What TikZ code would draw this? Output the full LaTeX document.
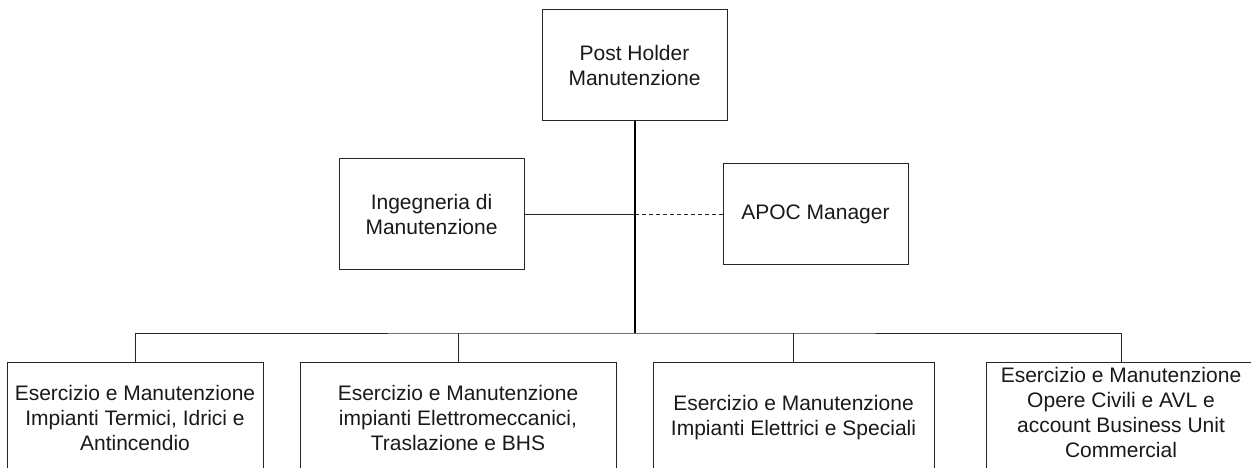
\documentclass[tikz,border=0pt]{standalone}
\usepackage{fontspec}
\setmainfont{Liberation Sans}
\begin{document}
\begin{tikzpicture}[x=1pt,y=-1pt,
  box/.style={draw=black!85, line width=1pt, rectangle, inner sep=0pt, align=center,
    font=\fontsize{21}{25}\selectfont, text=black!90},
  conn/.style={draw=black!85, line width=1pt},
  mainconn/.style={draw=black, line width=2pt},
  dotconn/.style={draw=black!85, line width=1pt, dash pattern=on 4pt off 3pt}]
\useasboundingbox (0,0) rectangle (1251,468);
\clip (0,0) rectangle (1251,468);
\node[box, minimum width=185pt, minimum height=111pt] (top) at (634.5,65.5) {Post Holder\\Manutenzione};
\node[box, minimum width=185pt, minimum height=110pt] (ing) at (431.5,214) {Ingegneria di\\Manutenzione};
\node[box, minimum width=185pt, minimum height=100pt] (apoc) at (815.5,214) {APOC Manager};
\node[box, minimum width=256pt, minimum height=112pt] (b1) at (135,418) {Esercizio e Manutenzione\\Impianti Termici, Idrici e\\Antincendio};
\node[box, minimum width=316pt, minimum height=112pt] (b2) at (458,418) {Esercizio e Manutenzione\\impianti Elettromeccanici,\\Traslazione e BHS};
\node[box, minimum width=281pt, minimum height=112pt] (b3) at (793.5,418) {Esercizio e Manutenzione\\Impianti Elettrici e Speciali};
\node[box, minimum width=270pt, minimum height=112pt] (b4) at (1121,418) {\raisebox{6pt}[\height][\depth]{\parbox{260pt}{\centering Esercizio e Manutenzione\\Opere Civili e AVL e\\account Business Unit\\Commercial}}};
\coordinate (bus) at (634.5,333);
\draw[conn] (b1.north) |- (bus) -| (b4.north);
\draw[conn] (b2.north) -- (b2.north |- bus);
\draw[conn] (b3.north) -- (b3.north |- bus);
\draw[conn] (ing.east) -- (ing.east -| bus);
\draw[dotconn] (apoc.west) -- (apoc.west -| bus);
\draw[mainconn] (top.south) -- (bus);
\end{tikzpicture}
\end{document}
